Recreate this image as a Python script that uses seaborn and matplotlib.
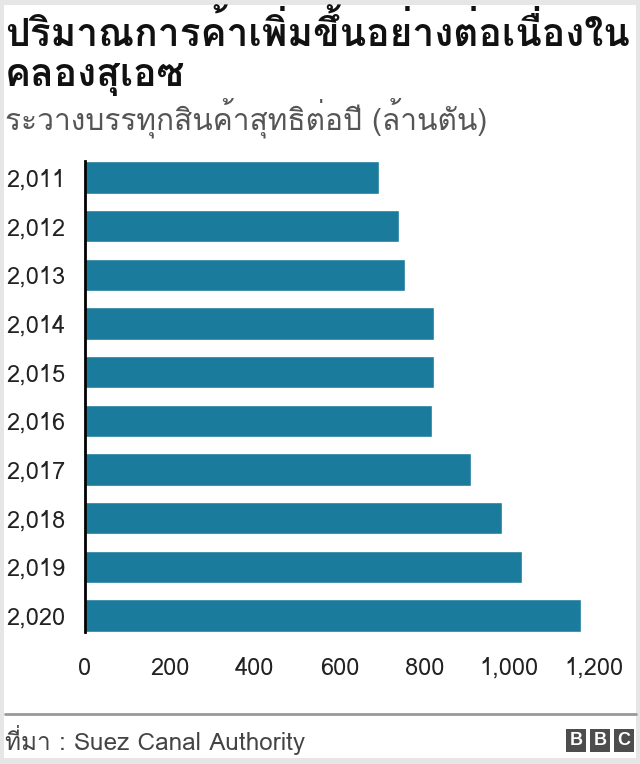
import matplotlib
matplotlib.use("Agg")
import numpy as np
import pandas as pd
import seaborn as sns
import matplotlib.pyplot as plt
from matplotlib.patches import Rectangle
from matplotlib import font_manager as fm
from matplotlib.ft2font import FT2Font

# ---------------- data ----------------
years = ["2,011", "2,012", "2,013", "2,014", "2,015",
         "2,016", "2,017", "2,018", "2,019", "2,020"]
tonnage = [692, 740, 754, 822, 823, 819, 909, 983, 1031, 1170]
xtick_values = [0, 200, 400, 600, 800, 1000, 1200]
xtick_labels = ["0", "200", "400", "600", "800", "1,000", "1,200"]
title = "ปริมาณการค้าเพิ่มขึ้นอย่างต่อเนื่องใน\nคลองสุเอซ"
subtitle = "ระวางบรรทุกสินค้าสุทธิต่อปี (ล้านตัน)"
source = "ที่มา : Suez Canal Authority"

# ---------------- fonts ----------------
sns.set_theme(style="white")
thai_font = None
for f in fm.fontManager.ttflist:
    try:
        cmap = FT2Font(f.fname).get_charmap()
        if 0x0E1B in cmap and 0x0E34 in cmap and 0x0E49 in cmap:
            thai_font = f.name
            break
    except Exception:
        pass
latin = "Liberation Sans"
fams = [thai_font, latin, "DejaVu Sans"] if thai_font else [latin, "DejaVu Sans"]
plt.rcParams["font.family"] = fams

W, H = 640, 764
fig = plt.figure(figsize=(W / 100, H / 100), dpi=100, facecolor="#e6e6e6")
# white card
fig.patches.append(Rectangle((4 / W, 1 - 758 / H), (636 - 4) / W, (758 - 5) / H,
                             transform=fig.transFigure, facecolor="white",
                             edgecolor="none", zorder=-10))

df = pd.DataFrame({"year": years, "tonnage": tonnage})

ax = fig.add_axes([85 / W, 1 - 632 / H, (594 - 85) / W, (632 - 161) / H])
ax.set_zorder(5)
ax.set_facecolor("none")
sns.barplot(data=df, x="tonnage", y="year", orient="h", color="#1a7b9c",
            saturation=1, width=0.66, ax=ax)
ax.set_xlim(0, 1200)
ax.set_ylim(9.34, -0.34)
ax.set_xticks(xtick_values)
ax.set_xticklabels(xtick_labels)
ax.set_xlabel("")
ax.set_ylabel("")
for s in ["top", "right", "bottom"]:
    ax.spines[s].set_visible(False)
ax.spines["left"].set_color("black")
ax.spines["left"].set_linewidth(2)
ax.tick_params(axis="both", length=0, labelsize=17, labelcolor="#222222")
ax.tick_params(axis="y", pad=14)
ax.tick_params(axis="x", pad=18)
ax.grid(False)

# titles
fig.text(5 / W, 1 - 12 / H, title, ha="left", va="top", fontsize=28,
         fontweight="bold", color="#111111", linespacing=1.15)
fig.text(5 / W, 1 - 118 / H, subtitle, ha="left", va="center", fontsize=21.5,
         color="#555555")

# footer
fig.add_artist(plt.Line2D([5 / W, 636 / W], [1 - 714 / H, 1 - 714 / H],
                          transform=fig.transFigure, color="#999999", lw=2))
fig.text(5 / W, 1 - 740 / H, source, ha="left", va="center", fontsize=17.5,
         color="#444444")
for i, letter in enumerate("BBC"):
    x0 = 566 + i * 24
    fig.patches.append(Rectangle((x0 / W, 1 - 752 / H), 20 / W, 23 / H,
                                 transform=fig.transFigure, facecolor="#4d4d4d",
                                 edgecolor="none"))
    fig.text((x0 + 10) / W, 1 - 740.5 / H, letter, ha="center", va="center",
             fontsize=13, fontweight="bold", color="white", family=[latin])

fig.savefig("out.png", dpi=100, facecolor=fig.get_facecolor())
